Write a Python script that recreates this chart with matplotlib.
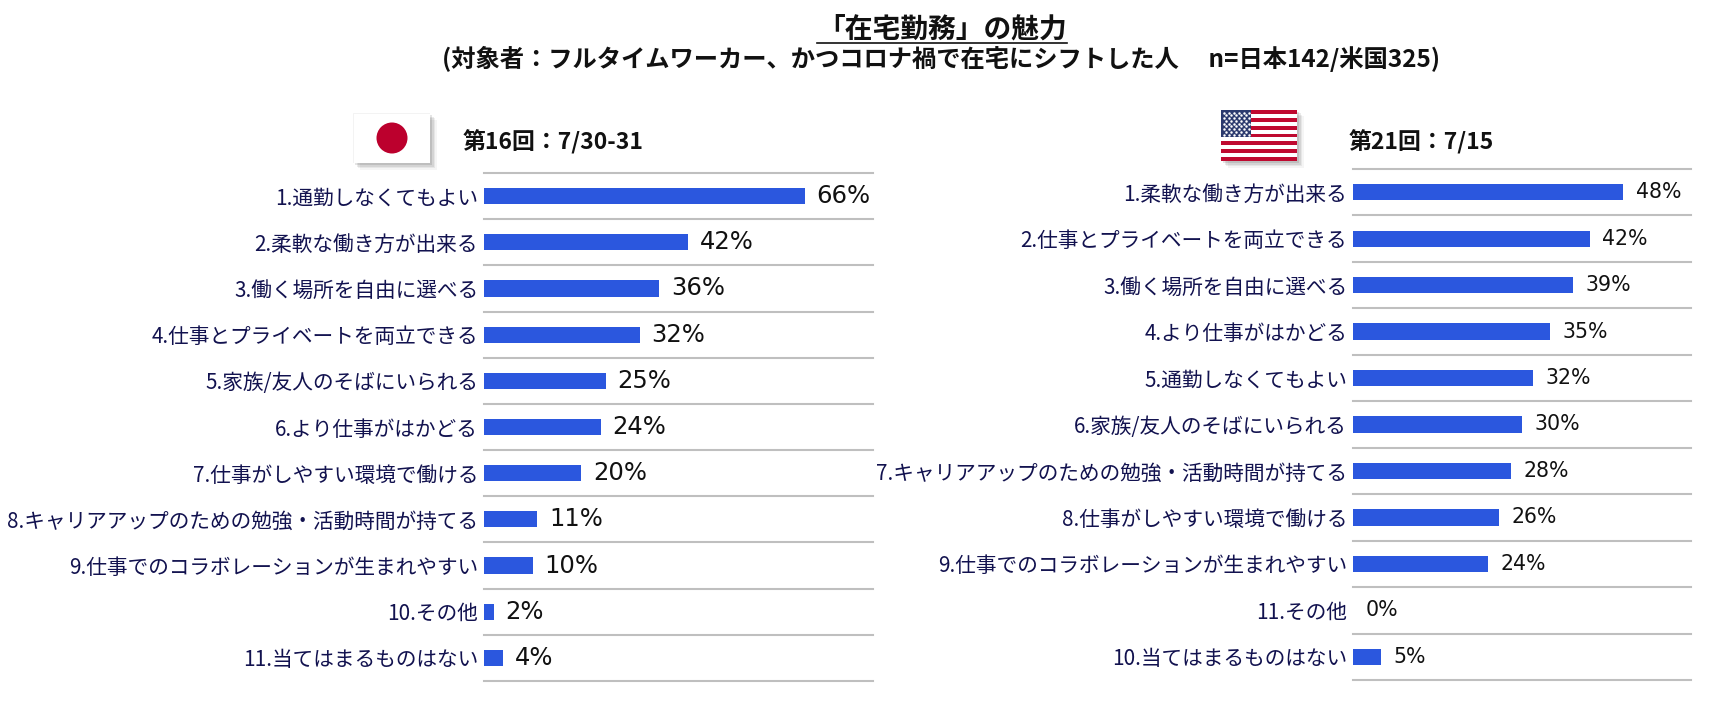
import matplotlib
matplotlib.use("Agg")
import matplotlib.pyplot as plt
from matplotlib.patches import Rectangle, Circle
from matplotlib.lines import Line2D

plt.rcParams['font.family'] = ['Noto Sans CJK JP', 'DejaVu Sans']

# ---------------- data ----------------
title_text = "「在宅勤務」の魅力"
subtitle_text = "(対象者：フルタイムワーカー、かつコロナ禍で在宅にシフトした人　 n=日本142/米国325)"
jp_header = "第16回：7/30-31"
us_header = "第21回：7/15"

jp_labels = ['1.通勤しなくてもよい', '2.柔軟な働き方が出来る', '3.働く場所を自由に選べる',
             '4.仕事とプライベートを両立できる', '5.家族/友人のそばにいられる',
             '6.より仕事がはかどる', '7.仕事がしやすい環境で働ける',
             '8.キャリアアップのための勉強・活動時間が持てる',
             '9.仕事でのコラボレーションが生まれやすい', '10.その他', '11.当てはまるものはない']
jp_values = [66, 42, 36, 32, 25, 24, 20, 11, 10, 2, 4]

us_labels = ['1.柔軟な働き方が出来る', '2.仕事とプライベートを両立できる', '3.働く場所を自由に選べる',
             '4.より仕事がはかどる', '5.通勤しなくてもよい', '6.家族/友人のそばにいられる',
             '7.キャリアアップのための勉強・活動時間が持てる', '8.仕事がしやすい環境で働ける',
             '9.仕事でのコラボレーションが生まれやすい', '11.その他', '10.当てはまるものはない']
us_values = [48, 42, 39, 35, 32, 30, 28, 26, 24, 0, 5]

# ---------------- style ----------------
W, H = 1714, 703
BAR = '#2B57DE'
GRID = '#BFBFBF'
LABEL = '#12124F'
CJK = ['Noto Sans CJK JP', 'DejaVu Sans']

fig = plt.figure(figsize=(W / 100, H / 100), dpi=100)
fig.patch.set_facecolor('white')


def px(x0, y0, x1, y1):
    return [x0 / W, 1 - y1 / H, (x1 - x0) / W, (y1 - y0) / H]


def panel(rect, labels, values, xmax, vfs, voff):
    ax = fig.add_axes(rect)
    n = len(labels)
    ys = list(range(n))
    ax.barh(ys, values, height=0.35, color=BAR, zorder=3)
    for yv in [i - 0.5 for i in range(n + 1)]:
        ax.axhline(yv, color=GRID, lw=1.5, zorder=1, clip_on=False)
    ax.set_xlim(0, xmax)
    ax.set_ylim(n - 0.5, -0.5)
    ax.set_yticks(ys)
    ax.set_yticklabels(labels, fontsize=14.9, color=LABEL, family=CJK)
    ax.tick_params(axis='y', length=0, pad=4.3)
    ax.set_xticks([])
    for s in ax.spines.values():
        s.set_visible(False)
    for yv, v in zip(ys, values):
        ax.annotate(f"{v}%", xy=(v, yv), xytext=(voff, 0), textcoords='offset points',
                    ha='left', va='center', fontsize=vfs, color='#111111',
                    family='DejaVu Sans')
    return ax


panel(px(484, 173, 873, 681), jp_labels, jp_values, 80, 17.5, 8.5)
panel(px(1353, 169, 1691, 680), us_labels, us_values, 60, 14.8, 9.0)

# ---------------- titles ----------------
t = fig.text(942 / W, 1 - 29 / H, title_text, ha='center', va='center',
             fontsize=20, fontweight='bold', color='#111111', family=CJK)
fig.text(941 / W, 1 - 59 / H, subtitle_text, ha='center', va='center',
         fontsize=17.5, fontweight='bold', color='#111111', family=CJK)
fig.text(463 / W, 1 - 142 / H, jp_header, ha='left', va='center',
         fontsize=16.5, fontweight='bold', color='#111111', family=CJK)
fig.text(1349 / W, 1 - 142 / H, us_header, ha='left', va='center',
         fontsize=16.5, fontweight='bold', color='#111111', family=CJK)

fig.canvas.draw()
bb = t.get_window_extent(fig.canvas.get_renderer())
fig.add_artist(Line2D([bb.x0 / W, bb.x1 / W], [1 - 43 / H, 1 - 43 / H],
                      color='#111111', lw=1.2, transform=fig.transFigure))


# ---------------- flags ----------------
def shadow(x0, y0, x1, y1):
    for i, a in enumerate([0.10, 0.08, 0.06, 0.04]):
        d = 2 + i * 1.5
        fig.add_artist(Rectangle(((x0 + d) / W, 1 - (y1 + d) / H), (x1 - x0) / W, (y1 - y0) / H,
                                 transform=fig.transFigure, facecolor='#000000',
                                 edgecolor='none', alpha=a, zorder=0))


# Japan
shadow(353, 113, 430, 163)
axj = fig.add_axes(px(353, 113, 430, 163))
axj.set_xlim(0, 77)
axj.set_ylim(0, 50)
axj.set_aspect('equal')
axj.add_patch(Rectangle((0, 0), 77, 50, facecolor='white', edgecolor='#EEEEEE', lw=0.5))
axj.add_patch(Circle((39, 25), 15.5, facecolor='#BC002D', edgecolor='none'))
axj.axis('off')

# USA
shadow(1221, 110, 1297, 161)
axu = fig.add_axes(px(1221, 110, 1297, 161))
axu.set_xlim(0, 76)
axu.set_ylim(0, 13)
axu.axis('off')
for i in range(13):
    axu.add_patch(Rectangle((0, i), 76, 1, facecolor='#BF0A30' if i % 2 == 0 else 'white',
                            edgecolor='none'))
axu.add_patch(Rectangle((0, 6), 30, 7, facecolor='#2B3A6E', edgecolor='none'))
sx, sy = [], []
for r in range(9):
    cols = 6 if r % 2 == 0 else 5
    off = 2.5 if r % 2 == 0 else 5.0
    for c in range(cols):
        sx.append(off + c * 5.0)
        sy.append(12.3 - r * 0.7)
axu.scatter(sx, sy, s=0.6, color='white', zorder=5)

fig.savefig('out.png', dpi=100, facecolor='white')
